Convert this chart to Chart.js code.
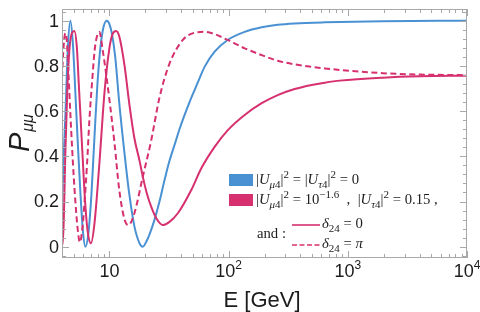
<!DOCTYPE html>
<html>
<head>
<meta charset="utf-8">
<script src="https://cdn.jsdelivr.net/npm/chart.js@4.4.1/dist/chart.umd.min.js"></script>
<style>
  html, body { margin: 0; padding: 0; background: #fff; }
  #wrap { width: 480px; height: 312px; }
</style>
</head>
<body>
<div id="wrap"><canvas id="chart" width="480" height="312"></canvas></div>
<script>
// Standard case: |U_mu4|^2 = |U_tau4|^2 = 0
const blueE = [4.0, 4.106, 4.27, 4.48, 4.70, 4.935, 5.18, 5.437, 5.706, 5.99, 6.285, 6.66, 7.06, 7.48, 7.93, 8.40, 8.90, 9.49,
  10, 10.6, 11.23, 12.1, 13.4, 14.7, 16.2, 17.9, 19.05, 20.5, 21.7, 23.9, 26.3, 29.0, 31.9, 35.9, 38.7, 47.0, 51.8, 57.0,
  62.85, 76.3, 98.1, 136.3, 189.4, 258, 358, 641, 1968, 10000];
const blueP = [0.15, 0.36, 0.58, 0.88, 1.0, 0.9, 0.68, 0.45, 0.24, 0.07, 0.0, 0.06, 0.23, 0.48, 0.72, 0.88, 0.97, 1.0,
  0.985, 0.93, 0.83, 0.635, 0.41, 0.23, 0.09, 0.015, 0.0, 0.025, 0.055, 0.12, 0.2, 0.295, 0.38, 0.465, 0.52, 0.64, 0.693, 0.745,
  0.796, 0.863, 0.915, 0.951, 0.971, 0.982, 0.988, 0.993, 0.998, 1.0];

// Sterile case, delta_24 = 0 (solid)
const solidE = [4.0, 4.054, 4.146, 4.27, 4.436, 4.612, 4.84, 5.08, 5.333, 5.52, 5.90, 6.285, 6.60, 6.99, 7.48, 8.24, 9.08,
  10, 10.6, 11.38, 12.1, 13.4, 14.7, 16.2, 17.9, 19.05, 20.5, 22.4, 24.8, 28.05, 31.9, 37.5, 48.6, 59, 76.3, 98.1,
  136.3, 189.4, 258, 358, 498, 641, 857, 1968, 4030, 10000];
const solidP = [0.03, 0.01, 0.13, 0.42, 0.70, 0.87, 0.945, 0.955, 0.88, 0.73, 0.44, 0.18, 0.06, 0.015, 0.10, 0.37, 0.68,
  0.88, 0.94, 0.955, 0.93, 0.80, 0.63, 0.48, 0.38, 0.31, 0.24, 0.177, 0.125, 0.096, 0.11, 0.148, 0.251, 0.347, 0.442, 0.515,
  0.583, 0.635, 0.671, 0.698, 0.716, 0.726, 0.735, 0.748, 0.754, 0.757];

// Sterile case, delta_24 = pi (dashed)
const dashE = [4.0, 4.106, 4.268, 4.395, 4.55, 4.70, 4.86, 5.03, 5.18, 5.385, 5.65, 5.93, 6.165, 6.495, 6.79, 7.155, 7.52, 7.85,
  8.24, 8.78, 9.35, 10, 11.02, 12.1, 13.4, 14.44, 16.2, 19.05, 22.4, 26.3, 31.9, 41.3, 51.8, 62.85, 76.3, 98.1,
  136.3, 189.4, 258, 358, 641, 1968, 4030, 10000];
const dashP = [0.75, 0.87, 0.945, 0.91, 0.75, 0.59, 0.44, 0.3, 0.2, 0.09, 0.02, 0.08, 0.19, 0.37, 0.56, 0.73, 0.87, 0.93,
  0.95, 0.87, 0.77, 0.65, 0.46, 0.25, 0.12, 0.096, 0.148, 0.31, 0.47, 0.66, 0.81, 0.915, 0.947, 0.951, 0.941, 0.915,
  0.878, 0.848, 0.823, 0.807, 0.789, 0.768, 0.762, 0.759];

// Axis ticks
const xMajor = [10, 100, 1000, 10000];
const xExp = ['', '2', '3', '4'];
const yMajor = [0, 0.2, 0.4, 0.6, 0.8, 1];
const yLabels = ['0', '0.2', '0.4', '0.6', '0.8', '1'];

const BLUE = '#4a91d3';
const RED = '#d6306f';
const FRAME = '#a8a8a8';
const TEXT = '#1c1c1c';
const SANS = '"Liberation Sans", Arial, sans-serif';
const SERIF = '"Liberation Serif", "Times New Roman", serif';

const toPoints = (xs, ys) => xs.map((x, i) => ({ x, y: ys[i] }));

// Draw a run of text pieces: style '' normal, 'i' italic, 'b' subscript, 'p' superscript
function drawRich(ctx, x, y, parts, size, family) {
  let cx = x;
  parts.forEach(([t, st]) => {
    const small = st.includes('b') || st.includes('p');
    const fs = small ? Math.round(size * 0.72) : size;
    const dy = st.includes('b') ? size * 0.26 : st.includes('p') ? -size * 0.42 : 0;
    ctx.font = (st.includes('i') ? 'italic ' : '') + fs + 'px ' + family;
    ctx.fillText(t, cx, y + dy);
    cx += ctx.measureText(t).width;
  });
  return cx;
}

const framePlugin = {
  id: 'frame',
  afterDraw(chart) {
    const { ctx, chartArea: a, scales: { x, y } } = chart;
    ctx.save();

    // frame
    ctx.strokeStyle = FRAME;
    ctx.lineWidth = 1;
    ctx.strokeRect(a.left + 0.5, a.top + 0.5, a.right - a.left - 1, a.bottom - a.top - 1);

    ctx.beginPath();
    // x ticks (log), bottom and top
    for (let d = 1; d <= 1000; d *= 10) {
      for (let m = 1; m <= 10; m++) {
        const v = m * d;
        if (v < x.min || v > x.max) continue;
        const px = Math.round(x.getPixelForValue(v)) + 0.5;
        const len = (m === 1 || m === 10) ? 7 : 4;
        ctx.moveTo(px, a.bottom); ctx.lineTo(px, a.bottom - len);
        ctx.moveTo(px, a.top); ctx.lineTo(px, a.top + len);
      }
    }
    // y ticks, left and right
    for (let k = -1; k <= 26; k++) {
      const v = k * 0.04;
      const py = Math.round(y.getPixelForValue(v)) + 0.5;
      const len = k % 5 === 0 ? 7 : 4;
      ctx.moveTo(a.left, py); ctx.lineTo(a.left + len, py);
      ctx.moveTo(a.right, py); ctx.lineTo(a.right - len, py);
    }
    ctx.stroke();

    // y tick labels
    ctx.fillStyle = TEXT;
    ctx.font = '18px ' + SANS;
    ctx.textAlign = 'right';
    ctx.textBaseline = 'middle';
    yMajor.forEach((v, i) => ctx.fillText(yLabels[i], a.left - 3, y.getPixelForValue(v) + 1));

    // x tick labels with exponents
    ctx.textAlign = 'left';
    ctx.textBaseline = 'alphabetic';
    xMajor.forEach((v, i) => {
      const px = x.getPixelForValue(v);
      ctx.font = '18px ' + SANS;
      const wb = ctx.measureText('10').width;
      ctx.font = '12px ' + SANS;
      const we = xExp[i] ? ctx.measureText(xExp[i]).width : 0;
      const x0 = px - (wb + we) / 2;
      ctx.font = '18px ' + SANS;
      ctx.fillText('10', x0, 277);
      if (xExp[i]) {
        ctx.font = '12px ' + SANS;
        ctx.fillText(xExp[i], x0 + wb, 269);
      }
    });

    // axis titles
    ctx.font = '22px ' + SANS;
    ctx.textAlign = 'center';
    ctx.fillText('E [GeV]', 262, 307);

    ctx.save();
    ctx.translate(29, 152);
    ctx.rotate(-Math.PI / 2);
    ctx.textAlign = 'left';
    ctx.font = 'italic 29px ' + SANS;
    ctx.fillText('P', 0, 0);
    const wp = ctx.measureText('P').width;
    ctx.font = 'italic 16px ' + SANS;
    ctx.fillText('μμ', wp + 1, 4);
    ctx.restore();

    // legend
    ctx.textAlign = 'left';
    ctx.fillStyle = BLUE;
    ctx.fillRect(229, 174, 24, 12);
    ctx.fillStyle = RED;
    ctx.fillRect(229, 194, 24, 12);
    ctx.fillStyle = TEXT;
    const fs = 14.7;
    drawRich(ctx, 256, 184, [['|', ''], ['U', 'i'], ['μ', 'bi'], ['4', 'b'], ['|', ''], ['2', 'p'],
      [' = |', ''], ['U', 'i'], ['τ', 'bi'], ['4', 'b'], ['|', ''], ['2', 'p'], [' = 0', '']], fs, SERIF);
    drawRich(ctx, 256, 204, [['|', ''], ['U', 'i'], ['μ', 'bi'], ['4', 'b'], ['|', ''], ['2', 'p'],
      [' = 10', ''], ['−1.6', 'p'], ['  ,  |', ''], ['U', 'i'], ['τ', 'bi'], ['4', 'b'], ['|', ''], ['2', 'p'],
      [' = 0.15 ,', '']], fs, SERIF);
    drawRich(ctx, 257, 238, [['and :', '']], fs, SERIF);
    drawRich(ctx, 322, 228, [['δ', 'i'], ['24', 'b'], [' = 0', '']], fs, SERIF);
    drawRich(ctx, 322, 248, [['δ', 'i'], ['24', 'b'], [' = ', ''], ['π', 'i']], fs, SERIF);

    ctx.strokeStyle = RED;
    ctx.lineWidth = 1.6;
    ctx.beginPath(); ctx.moveTo(292, 225); ctx.lineTo(320, 225); ctx.stroke();
    ctx.setLineDash([5, 2.5]);
    ctx.beginPath(); ctx.moveTo(292, 245); ctx.lineTo(320, 245); ctx.stroke();

    ctx.restore();
  }
};

new Chart(document.getElementById('chart'), {
  type: 'line',
  data: {
    datasets: [
      {
        label: 'delta24 = pi',
        data: toPoints(dashE, dashP),
        borderColor: RED,
        borderWidth: 2,
        borderDash: [6, 3.5],
        pointRadius: 0,
        cubicInterpolationMode: 'monotone',
        fill: false
      },
      {
        label: 'delta24 = 0',
        data: toPoints(solidE, solidP),
        borderColor: RED,
        borderWidth: 2,
        pointRadius: 0,
        cubicInterpolationMode: 'monotone',
        fill: false
      },
      {
        label: 'standard',
        data: toPoints(blueE, blueP),
        borderColor: BLUE,
        borderWidth: 2,
        pointRadius: 0,
        cubicInterpolationMode: 'monotone',
        fill: false
      }
    ]
  },
  options: {
    responsive: false,
    animation: false,
    devicePixelRatio: 1,
    layout: { padding: { left: 62, right: 13, top: 9, bottom: 54 } },
    scales: {
      x: { type: 'logarithmic', min: 4, max: 10000, display: false },
      y: { type: 'linear', min: -0.05, max: 1.052, display: false }
    },
    plugins: {
      legend: { display: false },
      tooltip: { enabled: false }
    }
  },
  plugins: [framePlugin]
});
</script>
</body>
</html>
